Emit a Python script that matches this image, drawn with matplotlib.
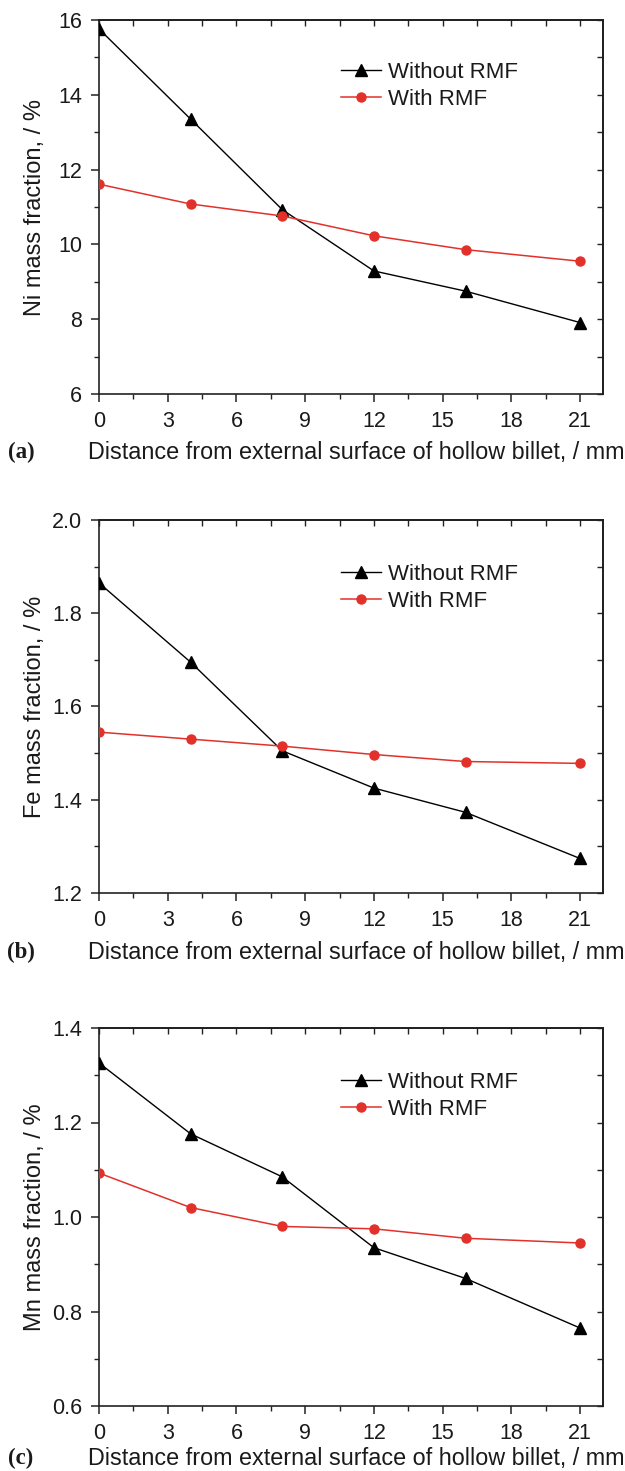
import matplotlib
matplotlib.use("Agg")
import matplotlib.pyplot as plt
from matplotlib.ticker import MultipleLocator, FormatStrFormatter

plt.rcParams['font.family'] = ['Liberation Sans', 'DejaVu Sans']

distance = [0, 4, 8, 12, 16, 21]

ni_without = [15.76, 13.35, 10.93, 9.29, 8.75, 7.91]
ni_with = [11.61, 11.08, 10.76, 10.23, 9.86, 9.55]

fe_without = [1.865, 1.695, 1.505, 1.425, 1.373, 1.274]
fe_with = [1.545, 1.530, 1.515, 1.497, 1.482, 1.478]

mn_without = [1.326, 1.176, 1.085, 0.935, 0.870, 0.765]
mn_with = [1.093, 1.020, 0.980, 0.975, 0.955, 0.945]

series_labels = ["Without RMF", "With RMF"]
panel_tags = ["(a)", "(b)", "(c)"]
ylabels = ["Ni mass fraction, / %", "Fe mass fraction, / %", "Mn mass fraction, / %"]
xlabel = "Distance from external surface of hollow billet, / mm"
x_ticks = [0, 3, 6, 9, 12, 15, 18, 21]

W, H = 625, 1471
fig = plt.figure(figsize=(W / 100, H / 100), dpi=100)

RED = '#e2312a'
TXT = '#1a1a1a'

panels = [
    dict(top=20, bottom=394, ylim=(6, 16), major=2, minor=1, fmt='%d',
         data=(ni_without, ni_with), xlab_off=58, leg_off=42),
    dict(top=520, bottom=893, ylim=(1.2, 2.0), major=0.2, minor=0.1, fmt='%.1f',
         data=(fe_without, fe_with), xlab_off=59, leg_off=44),
    dict(top=1028, bottom=1406, ylim=(0.6, 1.4), major=0.2, minor=0.1, fmt='%.1f',
         data=(mn_without, mn_with), xlab_off=52, leg_off=44),
]

left, right = 99, 603
for i, p in enumerate(panels):
    h = p['bottom'] - p['top']
    ax = fig.add_axes([left / W, 1 - p['bottom'] / H, (right - left) / W, h / H])
    yw, yr = p['data']
    ax.plot(distance, yw, color='black', lw=1.0, marker='^', ms=8,
            label=series_labels[0], zorder=3)
    ax.plot(distance, yr, color=RED, lw=1.1, marker='o', ms=6.5,
            label=series_labels[1], zorder=3)
    ax.set_xlim(0, 22)
    ax.set_ylim(*p['ylim'])
    ax.set_xticks(x_ticks)
    ax.xaxis.set_minor_locator(MultipleLocator(1.5))
    ax.yaxis.set_major_locator(MultipleLocator(p['major']))
    ax.yaxis.set_minor_locator(MultipleLocator(p['minor']))
    ax.yaxis.set_major_formatter(FormatStrFormatter(p['fmt']))
    for s in ax.spines.values():
        s.set_linewidth(1.2)
        s.set_color('#222222')
    ax.tick_params(which='major', direction='out', length=6, width=1.1,
                   labelsize=15.5, labelcolor=TXT, color='#222222')
    ax.tick_params(which='minor', direction='out', length=3.5, width=1.0,
                   color='#222222')
    ax.tick_params(axis='x', which='major', pad=6)
    ax.tick_params(axis='y', which='major', pad=6)

    sx = ax.secondary_xaxis('top')
    sx.set_xticks(x_ticks)
    sx.xaxis.set_minor_locator(MultipleLocator(1.5))
    sx.tick_params(which='major', direction='in', length=4, width=1.0,
                   labeltop=False, color='#222222')
    sx.tick_params(which='minor', direction='in', length=4, width=1.0,
                   color='#222222')
    sx.spines['top'].set_linewidth(1.2)
    sy = ax.secondary_yaxis('right')
    sy.yaxis.set_major_locator(MultipleLocator(p['major']))
    sy.yaxis.set_minor_locator(MultipleLocator(p['minor']))
    sy.tick_params(which='major', direction='in', length=4, width=1.0,
                   labelright=False, color='#222222')
    sy.tick_params(which='minor', direction='in', length=4, width=1.0,
                   color='#222222')
    sy.spines['right'].set_linewidth(1.2)

    ax.set_ylabel(ylabels[i], fontsize=17, color=TXT)
    ax.yaxis.set_label_coords(-(99 - 46) / (right - left), 0.5)

    ax.set_xlabel(xlabel, fontsize=16.8, color=TXT, va='center')
    ax.xaxis.set_label_coords((356 - left) / (right - left), -p['xlab_off'] / h)
    ax.text(-(99 - 21) / (right - left), -p['xlab_off'] / h, panel_tags[i],
            transform=ax.transAxes, ha='center', va='center', fontsize=16.5,
            fontweight='bold', family='Liberation Serif', color=TXT)

    ax.legend(loc='upper left',
              bbox_to_anchor=((341 - left) / (right - left), 1 - p['leg_off'] / h),
              frameon=False, fontsize=16, handlelength=1.8, handletextpad=0.3,
              labelspacing=0.28, borderpad=0, borderaxespad=0, numpoints=1,
              labelcolor=TXT)

fig.savefig('out.png', dpi=100)
